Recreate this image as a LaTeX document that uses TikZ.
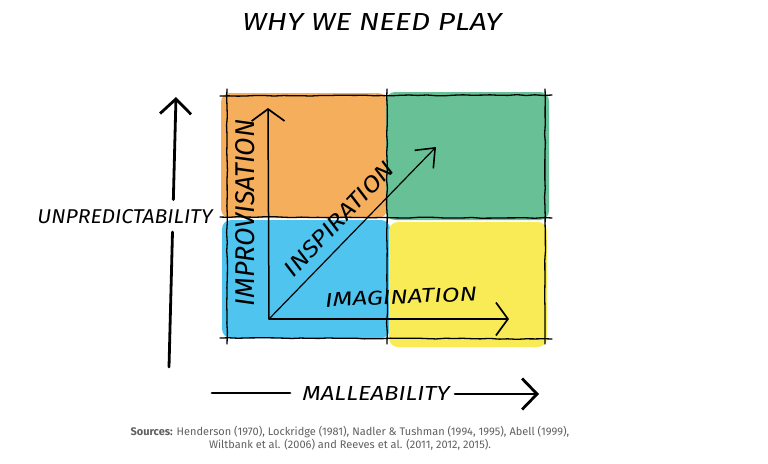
\documentclass[tikz,border=0pt]{standalone}
\usepackage{fontspec}
\setmainfont{Liberation Sans}
\newfontfamily\hwfont{Fira Sans}
\newfontfamily\srcfont{Fira Sans}
\usetikzlibrary{arrows.meta,decorations.pathmorphing,calc}
\definecolor{qorange}{RGB}{245,174,92}
\definecolor{qgreen}{RGB}{104,193,150}
\definecolor{qblue}{RGB}{79,196,238}
\definecolor{qyellow}{RGB}{249,235,85}
\definecolor{srcgray}{RGB}{95,95,95}
\newcommand{\hw}[3]{\resizebox{#1}{#2}{\hwfont\itshape #3}}
\tikzset{
  blob/.style={rounded corners=9pt},
  gridline/.style={line width=1.3pt, line cap=round, line join=round,
    decorate, decoration={random steps, segment length=9pt, amplitude=0.45pt}},
  bigarrow/.style={line width=2.8pt, line cap=round,
    -{Straight Barb[length=15pt,width=31pt,line width=2.8pt]}},
  bigline/.style={line width=2.8pt, line cap=round},
  smallarrow/.style={line width=1.5pt, line cap=round,
    -{Straight Barb[length=12pt,width=33pt,line width=1.7pt]}},
  diagarrow/.style={line width=1.2pt, line cap=round,
    -{Straight Barb[length=16pt,width=26pt,line width=1.6pt]}},
  hwlabel/.style={inner sep=0pt, text=black},
}
\begin{document}
\begin{tikzpicture}[x=1pt,y=-1pt]
\pgfmathsetseed{7}
\useasboundingbox (0,0) rectangle (768,463);
% colour fields
\fill[qorange, blob] (221,93) rectangle (387,218);
\fill[qgreen, blob]  (386,92) rectangle (549,220);
\fill[qblue, blob]   (222,220) rectangle (390,338);
\fill[qyellow, blob] (389,222) rectangle (547,347);
% grid
\coordinate (gTL) at (220,96);  \coordinate (gTR) at (552,95);
\coordinate (gML) at (220,217); \coordinate (gMR) at (552,218);
\coordinate (gBL) at (220,338); \coordinate (gBR) at (552,339);
\coordinate (gLT) at (227,89);  \coordinate (gLB) at (227,344);
\coordinate (gCT) at (387,89);  \coordinate (gCB) at (387,344);
\coordinate (gRT) at (545,89);  \coordinate (gRB) at (545,344);
\draw[gridline] (gTL) -- (gTR);
\draw[gridline] (gML) -- (gMR);
\draw[gridline] (gBL) -- (gBR);
\draw[gridline] (gLT) -- (gLB);
\draw[gridline] (gCT) -- (gCB);
\draw[gridline] (gRT) -- (gRB);
% inner axes
\coordinate (O) at (269,319);
\coordinate (vTip) at (268,108);
\coordinate (hTip) at (509,319);
\coordinate (dTip) at (436,147);
\draw[smallarrow] (O) -- (vTip);
\draw[smallarrow] (O) -- (hTip);
\draw[diagarrow] (O) -- (dTip);
% inner labels
\node[hwlabel, rotate=90] (impro) at (245,213) {\hw{187pt}{19pt}{IMPROVISATION}};
\node[hwlabel, rotate=46.6] (inspi) at (339,219) {\hw{148pt}{16pt}{INSPIRATION}};
\node[hwlabel, rotate=2.5] (imag) at (401,297) {\hw{152pt}{14pt}{IMAGINATION}};
% outer axes
\node[hwlabel] (unpred) at (125,217) {\hw{175pt}{14pt}{UNPREDICTABILITY}};
\coordinate (uBot) at (169,367);
\coordinate (uTop) at (176,97);
\coordinate (uGap1) at ($(uBot)!0.50!(uTop)$);
\coordinate (uGap2) at ($(uBot)!0.62!(uTop)$);
\draw[bigline] (uBot) -- (uGap1);
\draw[bigarrow] (uGap2) -- (uTop);
\node[hwlabel] (mall) at (376,393) {\hw{147pt}{14pt}{MALLEABILITY}};
\coordinate (mL) at (212,393);
\coordinate (mL2) at (290,393);
\coordinate (mR1) at (455,394);
\coordinate (mR) at (539,394);
\draw[bigline] (mL) -- (mL2);
\draw[bigarrow] (mR1) -- (mR);
% title
\node[hwlabel] (title) at (372,22) {\hw{259pt}{17pt}{WHY WE NEED PLAY}};
% sources
\node[align=center, text=srcgray, font=\srcfont\fontsize{11pt}{11pt}\selectfont, inner sep=0pt] (src) at (350,438)
 {\textbf{Sources:} Henderson (1970), Lockridge (1981), Nadler \& Tushman (1994, 1995), Abell (1999),\\
  Wiltbank et al. (2006) and Reeves et al. (2011, 2012, 2015).};
\end{tikzpicture}
\end{document}
